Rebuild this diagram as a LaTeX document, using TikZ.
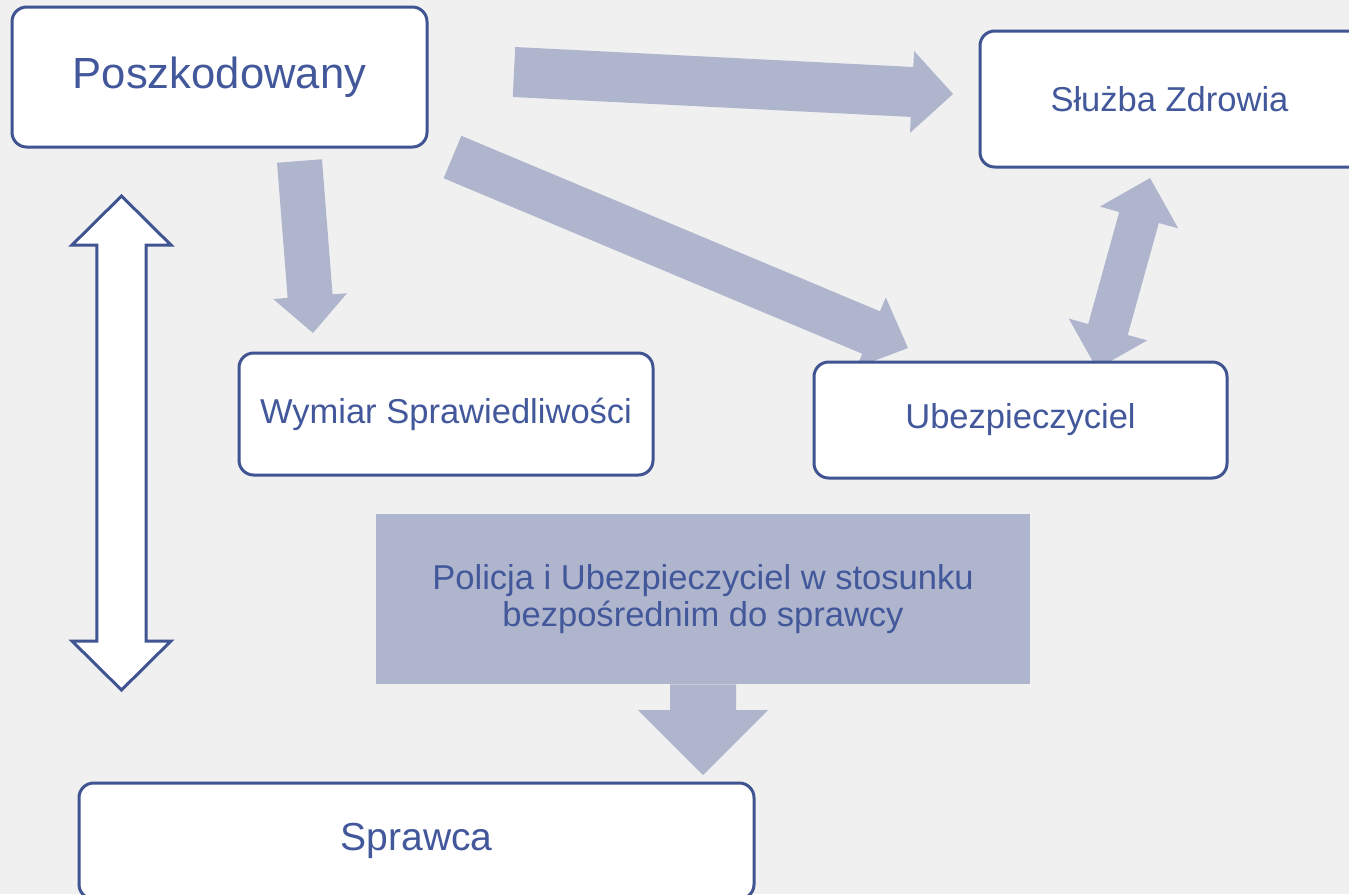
\documentclass[tikz,border=0pt]{standalone}
\usepackage{fontspec}
\setmainfont{Liberation Sans}
\usetikzlibrary{calc}

\definecolor{boxline}{RGB}{63,84,145}
\definecolor{boxtext}{RGB}{66,88,155}
\definecolor{arrowgray}{RGB}{174,181,204}
\definecolor{paper}{RGB}{240,240,240}

\tikzset{
  roundbox/.style={draw=boxline, line width=2.25pt, fill=white, rounded corners=11pt, text=boxtext, inner sep=0pt},
  arrowfill/.style={fill=arrowgray},
  hollowarrow/.style={fill=white, draw=boxline, line width=2.25pt},
}

% block arrow: tail, tip, half shaft, half head, head length
\newcommand{\blockarrow}[5]{%
  \coordinate (hb) at ($(#2)!#5!(#1)$);
  \fill[arrowfill] ($(#1)!#3!90:(#2)$) -- ($(hb)!#3!90:(#2)$) -- ($(hb)!#4!90:(#2)$) -- (#2)
    -- ($(hb)!#4!-90:(#2)$) -- ($(hb)!#3!-90:(#2)$) -- ($(#1)!#3!-90:(#2)$) -- cycle;
}
% two headed block arrow: [style] end a, end b, half shaft, half head, head length
\newcommand{\dblblockarrow}[6][arrowfill]{%
  \coordinate (hba) at ($(#2)!#6!(#3)$);
  \coordinate (hbb) at ($(#3)!#6!(#2)$);
  \path[#1] (#2) -- ($(hba)!#5!90:(#3)$) -- ($(hba)!#4!90:(#3)$) -- ($(hbb)!#4!-90:(#2)$)
    -- ($(hbb)!#5!-90:(#2)$) -- (#3) -- ($(hbb)!#5!90:(#2)$) -- ($(hbb)!#4!90:(#2)$)
    -- ($(hba)!#4!-90:(#3)$) -- ($(hba)!#5!-90:(#3)$) -- cycle;
}

\begin{document}
\begin{tikzpicture}[x=0.75pt,y=0.75pt,yscale=-1,xscale=1]
	\useasboundingbox (0,0) rectangle (1349,894);
	\fill[paper] (0,0) rectangle (1349,894);
	
	%Arrow ends
	\coordinate (toptail) at (514,72);
	\coordinate (toptip) at (953,94);
	\coordinate (downtail) at (299.5,161);
	\coordinate (downtip) at (313,333);
	\coordinate (diagtail) at (452.5,157);
	\coordinate (diagtip) at (908,348);
	\coordinate (rightlow) at (1097,369);
	\coordinate (righthigh) at (1150,178);
	\coordinate (lefthigh) at (121.5,196);
	\coordinate (leftlow) at (121.5,690);
	\coordinate (policjatip) at (703,775);
	
	%Block arrows
	\blockarrow{toptail}{toptip}{18.75pt}{30.75pt}{30.75pt}
	\blockarrow{downtail}{downtip}{16.9pt}{27.75pt}{27.75pt}
	\blockarrow{diagtail}{diagtip}{17.25pt}{28.5pt}{30pt}
	\dblblockarrow{rightlow}{righthigh}{15.4pt}{30.5pt}{30.75pt}
	\dblblockarrow[hollowarrow]{lefthigh}{leftlow}{18.4pt}{37.1pt}{36.75pt}
	
	% Text Node
	\node[roundbox, minimum width=311.25pt, minimum height=105pt, font=\fontsize{32.7pt}{39pt}\selectfont] (posz) at (219.5,77) {Poszkodowany};
	% Text Node
	\node[roundbox, minimum width=300pt, minimum height=102pt, font=\fontsize{25.9pt}{31pt}\selectfont] (sluzba) at (1180,99) {Służba Zdrowia\hspace*{15.75pt}};
	% Text Node
	\node[roundbox, minimum width=310.5pt, minimum height=91.5pt, font=\fontsize{25.9pt}{31pt}\selectfont] (wymiar) at (446,414) {Wymiar Sprawiedliwości};
	% Text Node
	\node[roundbox, minimum width=309.75pt, minimum height=87pt, font=\fontsize{25.9pt}{31pt}\selectfont] (ubezp) at (1020.5,420) {Ubezpieczyciel};
	% Text Node
	\node[arrowfill, text=boxtext, inner sep=0pt, align=center, minimum width=490.5pt, minimum height=127.5pt, font=\fontsize{25.9pt}{27.75pt}\selectfont] (policja) at (703,599) {Policja i Ubezpieczyciel w stosunku\\bezpośrednim do sprawcy};
	% Text Node
	\node[roundbox, minimum width=506.25pt, minimum height=87pt, font=\fontsize{29.3pt}{35pt}\selectfont] (sprawca) at (416.5,841) {Sprawca};
	
	\blockarrow{policja.south}{policjatip}{24.75pt}{48.75pt}{48.75pt}
	
\end{tikzpicture}
\end{document}
